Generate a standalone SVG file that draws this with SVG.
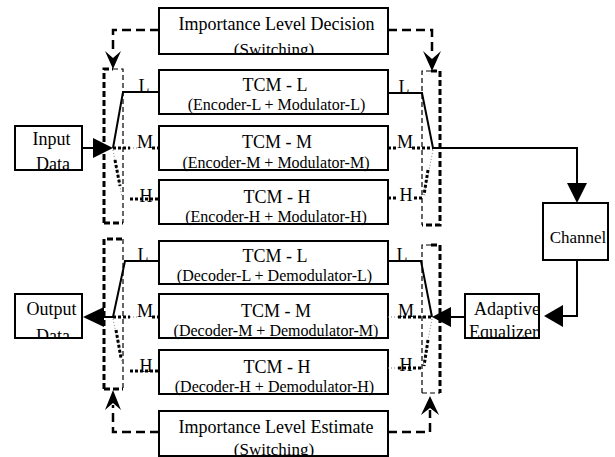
<svg xmlns="http://www.w3.org/2000/svg" width="615" height="457" viewBox="0 0 615 457">
<style>
.box{fill:#fff;stroke:#000;stroke-width:2}
.t{font-family:"Liberation Serif","Times New Roman",serif;font-size:18px;fill:#000;text-anchor:middle}
.s{font-family:"Liberation Serif","Times New Roman",serif;font-size:16px;fill:#000;text-anchor:middle}
.lbl{font-family:"Liberation Serif","Times New Roman",serif;font-size:18px;fill:#000;text-anchor:middle}
.solid{fill:none;stroke:#000;stroke-width:2}
.dot{fill:none;stroke:#000;stroke-width:3;stroke-dasharray:3 2}
.gdot{fill:none;stroke:#888;stroke-width:1;stroke-dasharray:1 2}
.dash{fill:none;stroke:#000;stroke-width:2.5;stroke-dasharray:9 5}
.thick{fill:none;stroke:#000;stroke-width:3;stroke-dasharray:6 3}
.thin{fill:none;stroke:#000;stroke-width:1.2;stroke-dasharray:5 3}
.head{fill:#000;stroke:none}
</style>
<defs>
<clipPath id="cDec"><rect x="0" y="0" width="615" height="54"/></clipPath>
<clipPath id="cEst"><rect x="0" y="400" width="615" height="57"/></clipPath>
<clipPath id="cIn"><rect x="0" y="120" width="615" height="50"/></clipPath>
<clipPath id="cOut"><rect x="0" y="288" width="615" height="50"/></clipPath>
</defs>

<g id="decision">
<rect class="box" x="159" y="8" width="229" height="46"/>
<g clip-path="url(#cDec)">
<text class="t" x="276.5" y="30">Importance Level Decision</text>
<text class="s" x="274" y="55" style="font-size:17px">(Switching)</text>
</g>
</g>
<g id="enc-L"><rect class="box" x="159" y="70" width="229" height="44"/>
<text class="t" x="275" y="91">TCM - L</text><text class="s" x="276.5" y="110">(Encoder-L + Modulator-L)</text></g>
<g id="enc-M"><rect class="box" x="159" y="126" width="229" height="44"/>
<text class="t" x="277" y="148">TCM - M</text><text class="s" x="276" y="168">(Encoder-M + Modulator-M)</text></g>
<g id="enc-H"><rect class="box" x="159" y="180" width="229" height="44"/>
<text class="t" x="277" y="203">TCM - H</text><text class="s" x="276" y="222">(Encoder-H + Modulator-H)</text></g>
<g id="dec-L"><rect class="box" x="159" y="241" width="229" height="43"/>
<text class="t" x="275" y="262">TCM - L</text><text class="s" x="274.5" y="281">(Decoder-L + Demodulator-L)</text></g>
<g id="dec-M"><rect class="box" x="159" y="294" width="229" height="44"/>
<text class="t" x="276" y="317">TCM - M</text><text class="s" x="276" y="336">(Decoder-M + Demodulator-M)</text></g>
<g id="dec-H"><rect class="box" x="159" y="350" width="229" height="44"/>
<text class="t" x="277" y="373">TCM - H</text><text class="s" x="274.5" y="392">(Decoder-H + Demodulator-H)</text></g>
<g id="estimate">
<rect class="box" x="159" y="411" width="229" height="45"/>
<g clip-path="url(#cEst)">
<text class="t" x="276" y="433">Importance Level Estimate</text>
<text class="s" x="274" y="455" style="font-size:17px">(Switching)</text>
</g>
</g>
<g id="input">
<rect class="box" x="15" y="126" width="67" height="44"/>
<g clip-path="url(#cIn)"><text class="t" x="51.5" y="145">Input</text><text class="t" x="53" y="170">Data</text></g>
</g>
<g id="output">
<rect class="box" x="15" y="294" width="67" height="44"/>
<g clip-path="url(#cOut)"><text class="t" x="51.5" y="315">Output</text><text class="t" x="53" y="342">Data</text></g>
</g>
<g id="channel">
<rect class="box" x="543" y="203" width="65" height="57"/>
<text class="t" x="578" y="243" style="font-size:17px">Channel</text>
</g>
<g id="equalizer">
<rect class="box" x="465" y="294" width="74" height="44"/>
<g clip-path="url(#cOut)"><text class="t" x="507" y="315">Adaptive</text><text class="t" x="503.5" y="338">Equalizer</text></g>
</g>

<g id="switch-tx-in">
<path class="thick" d="M104,223 V69 H113"/>
<path class="thin" d="M113,69 H123 V223"/>
<path class="thick" d="M104,223 H123"/>
</g>
<g id="switch-tx-out">
<path class="thin" d="M431,71 H422 V225"/>
<path class="thick" d="M431,71 H440 V225 H422"/>
</g>
<g id="switch-rx-out">
<path class="thick" d="M104,389 V239 H123"/>
<path class="thin" d="M123,239 V389"/>
<path class="thick" d="M104,389 H123"/>
</g>
<g id="switch-rx-in">
<path class="thin" d="M431,245 H422 V393"/>
<path class="thick" d="M431,245 H440 V393"/>
<path class="thin" d="M422,393 H440"/>
</g>

<g id="connectors">
<path class="solid" d="M82,148 H95"/>
<polygon class="head" points="113,148 93,138 93,158"/>
<path class="solid" d="M113,148 L123,92 H159"/>
<path class="dot" d="M113,148 H130"/>
<path class="gdot" d="M130,148 H137"/>
<path class="dot" d="M152,148 H159"/>
<path class="gdot" d="M113,150 L122,197"/>
<path class="dot" d="M115,160 L120,186"/>
<path class="dot" d="M130,199 H159"/>
<path class="solid" d="M388,93 H422 L433,148 H577 V185"/>
<polygon class="head" points="577,203 567,183 587,183"/>
<path class="dot" d="M388,148 H396"/>
<path class="dot" d="M412,148 H433"/>
<path class="gdot" d="M433,150 L424,195"/>
<path class="dot" d="M428,170 L424,195"/>
<path class="dot" d="M388,198 H397"/>
<path class="dot" d="M414,198 H422"/>
<path class="solid" d="M577,260 V316 H562"/>
<polygon class="head" points="544,316 563,305 563,327"/>
<path class="solid" d="M465,317 H449"/>
<polygon class="head" points="432,317 451,307 451,327"/>
<path class="solid" d="M388,261 H421 L432,317"/>
<path class="gdot" d="M388,317 H398"/>
<path class="dot" d="M398,317 H432"/>
<path class="gdot" d="M432,319 L423,366"/>
<path class="dot" d="M428,340 L424,366"/>
<path class="gdot" d="M388,368 H398"/>
<path class="dot" d="M398,368 H423"/>
<path class="solid" d="M159,261 H125 L113,317 H102"/>
<polygon class="head" points="83,317 104,307 104,327"/>
<path class="dot" d="M113,317 H130"/>
<path class="gdot" d="M130,317 H137"/>
<path class="dot" d="M152,317 H159"/>
<path class="gdot" d="M113,319 L123,367"/>
<path class="dot" d="M116,330 L121,358"/>
<path class="dot" d="M130,371 H159"/>
<path class="dash" d="M159,30 H113 V54"/>
<polygon class="head" points="113,69 105,51 113,58 121,51"/>
<path class="dash" d="M388,30 H432 V54"/>
<polygon class="head" points="432,71 423,51 432,59 441,51"/>
<path class="dash" d="M159,432 H113 V405"/>
<polygon class="head" points="113,390 105,410 113,403 121,410"/>
<path class="dash" d="M388,432 H430 V410"/>
<polygon class="head" points="430,396 421,415 430,408 439,415"/>
</g>

<g id="labels">
<text class="lbl" x="144" y="92">L</text>
<text class="lbl" x="145" y="148">M</text>
<text class="lbl" x="146" y="202">H</text>
<text class="lbl" x="404" y="93">L</text>
<text class="lbl" x="405" y="148">M</text>
<text class="lbl" x="406" y="201">H</text>
<text class="lbl" x="143" y="261">L</text>
<text class="lbl" x="145" y="317">M</text>
<text class="lbl" x="146" y="372">H</text>
<text class="lbl" x="402" y="261">L</text>
<text class="lbl" x="406" y="317">M</text>
<text class="lbl" x="406" y="371">H</text>
</g>
</svg>
